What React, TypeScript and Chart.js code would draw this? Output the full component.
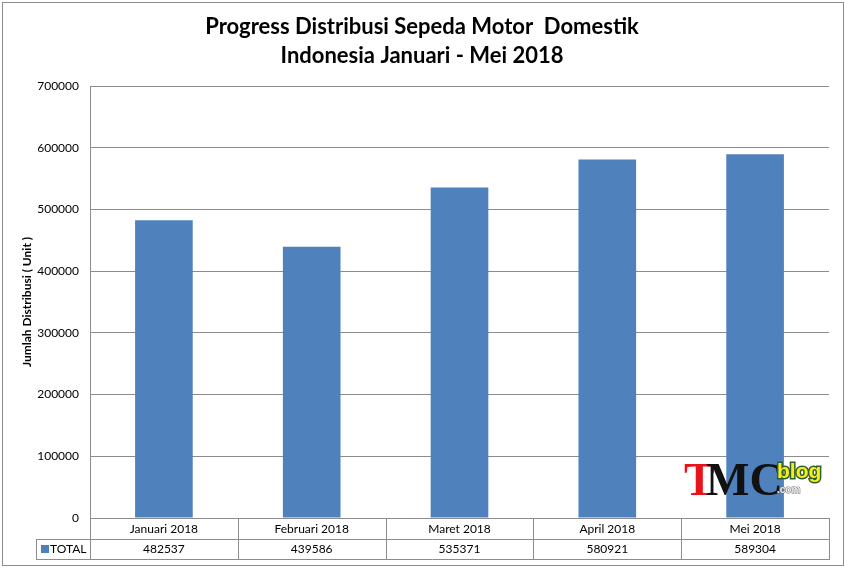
import { useEffect, useRef } from "react";
import { Chart, registerables } from "chart.js";

Chart.register(...registerables);

const judul = ["Progress Distribusi Sepeda Motor  Domestik", "Indonesia Januari - Mei 2018"];
const bulan = ["Januari 2018", "Februari 2018", "Maret 2018", "April 2018", "Mei 2018"];
const total = [482537, 439586, 535371, 580921, 589304];
const namaSeri = "TOTAL";
const labelSumbuY = "Jumlah Distribusi ( Unit )";

const warnaBatang = "#4F81BD";
const warnaGaris = "#8c8c8c";
const hurufUtama = "Lato, 'Open Sans', sans-serif";

// bingkai luar + judul dua baris
const judulPlugin = {
    id: "judulTengah",
    beforeDraw(chart: any) {
        const { ctx, width, height } = chart;
        ctx.save();
        ctx.fillStyle = "#fff";
        ctx.fillRect(0, 0, width, height);
        ctx.strokeStyle = warnaGaris;
        ctx.lineWidth = 1;
        ctx.strokeRect(2.5, 2.5, width - 4, height - 5);
        ctx.fillStyle = "#000";
        ctx.font = `bold 22px ${hurufUtama}`;
        ctx.textAlign = "center";
        ctx.textBaseline = "middle";
        judul.forEach((baris, i) => ctx.fillText(baris, 422, 27 + i * 29));
        ctx.restore();
    },
};

// logo watermark di pojok kanan bawah
const logoPlugin = {
    id: "logoTmc",
    afterDatasetsDraw(chart: any) {
        const { ctx } = chart;
        ctx.save();
        ctx.textBaseline = "alphabetic";
        ctx.textAlign = "left";
        ctx.font = "bold 46px 'Liberation Serif', serif";
        ctx.fillStyle = "#e8141b";
        ctx.fillText("T", 684, 495);
        ctx.fillStyle = "#111";
        ctx.fillText("MC", 706, 495);
        ctx.font = "bold 21px 'Liberation Sans', sans-serif";
        ctx.lineWidth = 3;
        ctx.strokeStyle = "#2f5f2f";
        ctx.strokeText("blog", 777, 478);
        ctx.fillStyle = "#f5ee1a";
        ctx.fillText("blog", 777, 478);
        ctx.font = "bold 10px 'Liberation Sans', sans-serif";
        ctx.fillStyle = "#eee";
        ctx.strokeStyle = "#666";
        ctx.lineWidth = 1;
        ctx.strokeText(".com", 777, 493);
        ctx.fillText(".com", 777, 493);
        ctx.restore();
    },
};

// tabel data di bawah sumbu x
const tabelPlugin = {
    id: "tabelData",
    afterDraw(chart: any) {
        const { ctx, chartArea: a } = chart;
        const labels: string[] = chart.data.labels;
        const nilai: number[] = chart.data.datasets[0].data;
        const lebar = (a.right - a.left) / labels.length;
        const r1 = Math.round(a.bottom);
        const r2 = r1 + 21;
        const r3 = r1 + 41;
        const kiri = 36;
        ctx.save();
        ctx.strokeStyle = warnaGaris;
        ctx.lineWidth = 1;
        ctx.beginPath();
        ctx.moveTo(kiri, r2 + 0.5);
        ctx.lineTo(a.right, r2 + 0.5);
        ctx.moveTo(kiri, r3 + 0.5);
        ctx.lineTo(a.right, r3 + 0.5);
        ctx.moveTo(kiri + 0.5, r2);
        ctx.lineTo(kiri + 0.5, r3 + 1);
        for (let i = 0; i <= labels.length; i++) {
            const xb = Math.round(a.left + i * lebar) + 0.5;
            ctx.moveTo(xb, r1);
            ctx.lineTo(xb, r3 + 1);
        }
        ctx.stroke();

        ctx.fillStyle = "#000";
        ctx.font = `12px ${hurufUtama}`;
        ctx.textAlign = "center";
        ctx.textBaseline = "middle";
        labels.forEach((lab, i) => {
            const cx = a.left + (i + 0.5) * lebar;
            ctx.fillText(lab, cx, r1 + 11);
            ctx.fillText(String(nilai[i]), cx, r2 + 10.5);
        });

        ctx.fillStyle = warnaBatang;
        ctx.fillRect(41, r2 + 6, 8, 8);
        ctx.fillStyle = "#000";
        ctx.textAlign = "left";
        ctx.fillText(chart.data.datasets[0].label, 50, r2 + 10.5);
        ctx.restore();
    },
};

export default function App() {
    const chartRef = useRef<HTMLCanvasElement>(null);
    const chartInstance = useRef<Chart | null>(null);

    useEffect(() => {
        if (!chartRef.current) return;
        const config = {
            type: "bar",
            data: {
                labels: bulan,
                datasets: [
                    {
                        label: namaSeri,
                        data: total,
                        backgroundColor: warnaBatang,
                        borderWidth: 0,
                        barPercentage: 0.39,
                        categoryPercentage: 1,
                    },
                ],
            },
            options: {
                responsive: false,
                animation: false,
                layout: { padding: { top: 86, right: 16, bottom: 50, left: 0 } },
                plugins: {
                    legend: { display: false },
                    title: { display: false },
                    tooltip: { enabled: false },
                },
                scales: {
                    x: {
                        ticks: { display: false },
                        grid: { display: false },
                        border: { display: false },
                        afterFit: (s: any) => {
                            s.height = 0;
                        },
                    },
                    y: {
                        min: 0,
                        max: 700000,
                        ticks: {
                            stepSize: 100000,
                            padding: 11,
                            color: "#000",
                            font: { family: hurufUtama, size: 12 },
                            callback: (v: any) => String(v),
                        },
                        grid: { color: warnaGaris, drawTicks: false },
                        border: { color: warnaGaris },
                        title: {
                            display: true,
                            text: labelSumbuY,
                            color: "#000",
                            font: { family: hurufUtama, size: 12, weight: "bold" },
                            padding: { top: 20, bottom: 0 },
                        },
                        afterFit: (s: any) => {
                            s.width = 90;
                        },
                    },
                },
            },
            plugins: [judulPlugin, logoPlugin, tabelPlugin],
        };

        if (chartInstance.current) chartInstance.current.destroy();
        chartInstance.current = new Chart(chartRef.current, config as any);

        return () => {
            if (chartInstance.current) {
                chartInstance.current.destroy();
                chartInstance.current = null;
            }
        };
    }, []);

    return (
        <div style={{ position: "absolute", left: 0, top: 0, width: 845, height: 568 }}>
            <canvas ref={chartRef} width={845} height={568} />
        </div>
    );
}
